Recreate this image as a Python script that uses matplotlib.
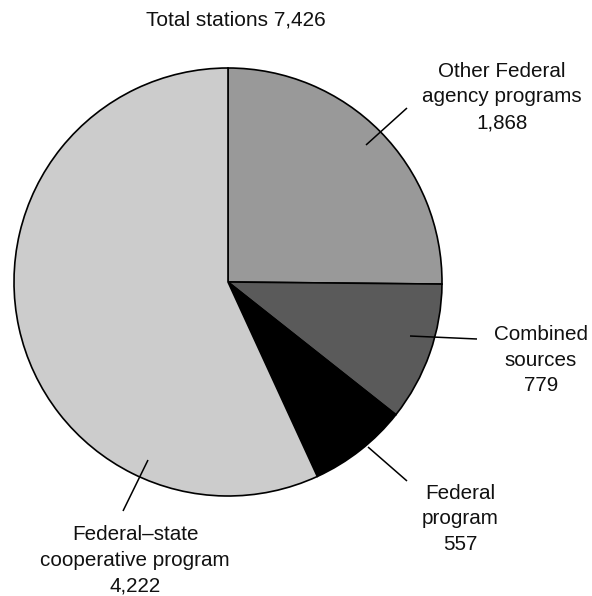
import matplotlib
matplotlib.use("Agg")
import matplotlib.pyplot as plt
import numpy as np

plt.rcParams['font.family'] = ['Liberation Sans', 'DejaVu Sans']

categories = ["Other Federal\nagency programs", "Combined\nsources", "Federal\nprogram",
              "Federal\u2013state\ncooperative program"]
values = [1868, 779, 557, 4222]
value_labels = ["1,868", "779", "557", "4,222"]
title = "Total stations 7,426"
colors = ["#999999", "#5a5a5a", "#000000", "#cccccc"]

W, H = 592, 596
fig = plt.figure(figsize=(W / 100, H / 100), dpi=100)
ax = fig.add_axes([0, 0, 1, 1])

cx, cy, R = 228, H - 282, 214
ax.pie(values, colors=colors, startangle=90, counterclock=False,
       center=(cx, cy), radius=R, frame=True,
       wedgeprops=dict(edgecolor='black', linewidth=1.2))
ax.set_xlim(0, W)
ax.set_ylim(0, H)
ax.set_aspect('equal')
ax.axis('off')

# leader lines (image pixel coords) and label positions
leaders = [((366, 145), (407, 108)),
           ((410, 336), (477, 339)),
           ((368, 447), (407, 481)),
           ((148, 460), (123, 511))]
label_pos = [(502, 97), (541, 360), (460, 519), (135, 560)]

for (p0, p1) in leaders:
    ax.plot([p0[0], p1[0]], [H - p0[1], H - p1[1]], color='black', lw=1.1,
            solid_capstyle='butt')

for cat, vl, (lx, ly) in zip(categories, value_labels, label_pos):
    ax.text(lx, H - ly, cat + "\n" + vl, ha='center', va='center',
            fontsize=14.9, linespacing=1.45, color='#111111')

ax.text(236, H - 20, title, ha='center', va='center', fontsize=15, color='#111111')

fig.savefig("out.png", dpi=100)
